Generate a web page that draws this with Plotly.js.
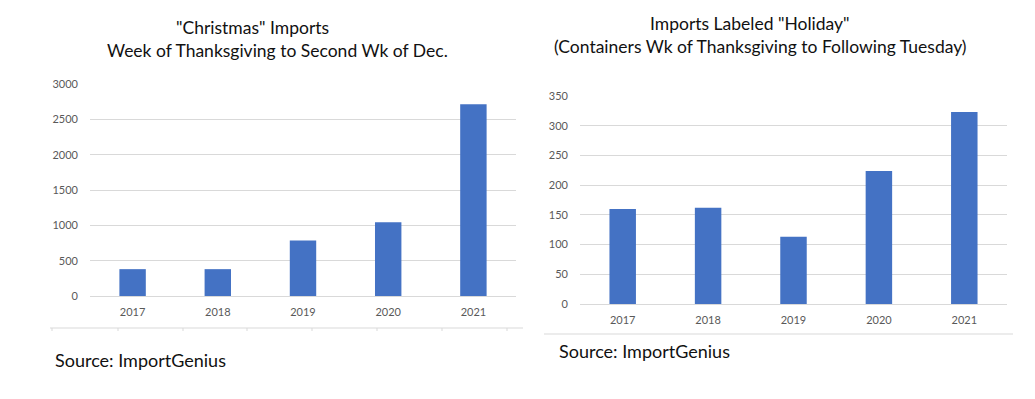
<!DOCTYPE html>
<html>
<head>
<meta charset="utf-8">
<script src="https://cdn.plot.ly/plotly-3.0.1.min.js"></script>
<style>
  html, body { margin: 0; padding: 0; background: #ffffff; }
  #chart { width: 1035px; height: 399px; }
</style>
</head>
<body>
<div id="chart"></div>
<script>
// ---- data ----
const years = ["2017", "2018", "2019", "2020", "2021"];
const christmasImports = [380, 380, 785, 1045, 2715];
const holidayImports = [160, 162, 113, 224, 323];

const leftTitle1 = '"Christmas" Imports';
const leftTitle2 = 'Week of Thanksgiving to Second Wk of Dec.';
const rightTitle1 = 'Imports Labeled "Holiday"';
const rightTitle2 = '(Containers Wk of Thanksgiving to Following Tuesday)';
const sourceText = 'Source: ImportGenius';

// ---- layout helpers (pixel -> paper) ----
const W = 1035, H = 399;
const px = x => x / W;
const py = y => 1 - y / H;

const FONT = 'Lato, "Open Sans", sans-serif';
const BAR = '#4472C4';
const GRID = '#d9d9d9';
const TICKC = '#595959';

const traces = [
  { type: 'bar', x: years, y: christmasImports, xaxis: 'x', yaxis: 'y',
    marker: { color: BAR }, hoverinfo: 'x+y' },
  { type: 'bar', x: years, y: holidayImports, xaxis: 'x2', yaxis: 'y2',
    marker: { color: BAR }, hoverinfo: 'x+y' }
];

function xAx(d, anchor) {
  return { domain: d, anchor: anchor, type: 'category', showgrid: false, showline: false,
    zeroline: false, ticks: '', tickfont: { family: FONT, size: 11, color: TICKC },
    ticklabelstandoff: 8, fixedrange: true };
}
function yAx(d, anchor, r, dt) {
  return { domain: d, anchor: anchor, range: r, dtick: dt, tick0: 0, showgrid: true,
    gridcolor: GRID, gridwidth: 1, zeroline: true, zerolinecolor: GRID, zerolinewidth: 1,
    showline: false, ticks: '', tickfont: { family: FONT, size: 11, color: TICKC },
    ticklabelstandoff: 11, fixedrange: true };
}

const ann = (text, x, y, size, anchor) => ({
  text: text, xref: 'paper', yref: 'paper', x: px(x), y: py(y),
  xanchor: anchor || 'center', yanchor: 'middle', showarrow: false,
  font: { family: FONT, size: size, color: '#111111' }
});

const line = (x0, y0, x1, y1) => ({
  type: 'line', xref: 'paper', yref: 'paper', x0: px(x0), y0: py(y0), x1: px(x1), y1: py(y1),
  line: { color: GRID, width: 1 }
});

const shapes = [line(50, 328, 523, 328), line(544, 334, 1013, 334)];
[52, 118, 183, 247, 312, 377, 442, 507].forEach(x => shapes.push(line(x, 328, x, 331)));

const layout = {
  width: W, height: H,
  margin: { l: 0, r: 0, t: 0, b: 0 },
  paper_bgcolor: '#ffffff', plot_bgcolor: '#ffffff',
  showlegend: false, bargap: 0.69,
  xaxis: xAx([px(90), px(516)], 'y'),
  yaxis: yAx([py(296), py(84)], 'x', [0, 3000], 500),
  xaxis2: xAx([px(580), px(1007)], 'y2'),
  yaxis2: yAx([py(304), py(96)], 'x2', [0, 350], 50),
  annotations: [
    ann(leftTitle1, 252, 27, 17.5),
    ann(leftTitle2, 277, 50, 17.5),
    ann(rightTitle1, 750, 23, 17.5),
    ann(rightTitle2, 760, 46, 17.5),
    ann(sourceText, 53, 360, 18, 'left'),
    ann(sourceText, 557, 351, 18, 'left')
  ],
  shapes: shapes
};

Plotly.newPlot('chart', traces, layout, { displayModeBar: false, staticPlot: true });
</script>
</body>
</html>
